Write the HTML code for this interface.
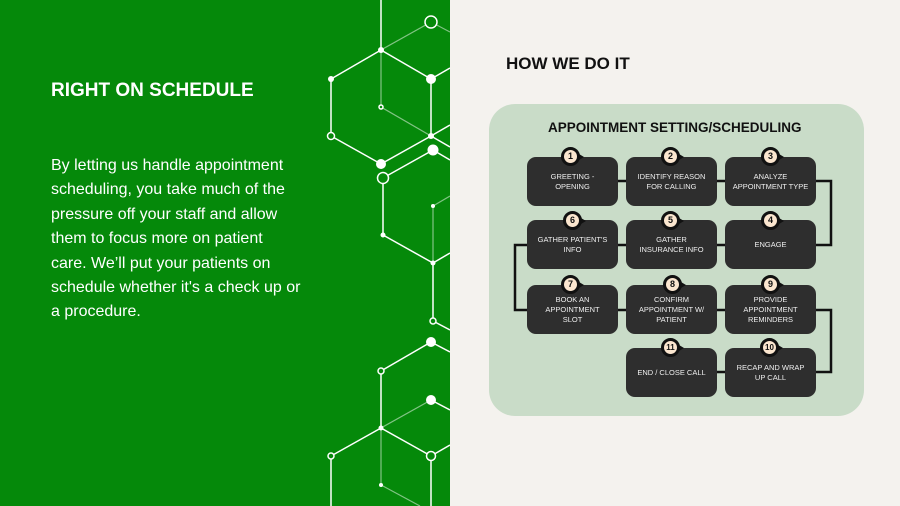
<!DOCTYPE html>
<html><head><style>
*{margin:0;padding:0;box-sizing:border-box}
body{width:900px;height:506px;position:relative;overflow:hidden;font-family:"Liberation Sans",sans-serif;background:#f4f2ee}
#l{position:absolute;left:0;top:0;width:450px;height:506px;background:#05890a}
.t{position:absolute;color:#fff;white-space:nowrap}
.b{position:absolute;background:#2e2e2e;border-radius:9px;color:#eee;font-size:7.5px;text-align:center;display:flex;align-items:center;justify-content:center;line-height:10px;width:91px;height:49px}
.n{position:absolute;width:19px;height:19px;border-radius:50%;background:#fbe6cf;border:3px solid #111;font-size:9px;font-weight:bold;text-align:center;line-height:13px;color:#111}
.n:after{content:"";position:absolute;right:-7px;top:3.5px;border-left:5px solid #111;border-top:3.5px solid transparent;border-bottom:3.5px solid transparent}
</style></head><body>
<div id="l"></div>
<svg style="position:absolute;left:0;top:0" width="450" height="506">
<g stroke="#fff" stroke-width="1.5" fill="none">
<line x1="381" y1="0" x2="381" y2="50"/><line x1="381" y1="50" x2="331" y2="79"/><line x1="381" y1="50" x2="431" y2="79"/>
<line x1="331" y1="79" x2="331" y2="136"/><line x1="331" y1="136" x2="381" y2="164"/><line x1="381" y1="164" x2="431" y2="136"/>
<line x1="431" y1="79" x2="431" y2="136"/><line x1="431" y1="79" x2="450" y2="68"/><line x1="431" y1="136" x2="450" y2="125"/><line x1="431" y1="136" x2="450" y2="147"/>
<line x1="383" y1="178" x2="433" y2="150"/><line x1="433" y1="150" x2="450" y2="160"/><line x1="383" y1="178" x2="383" y2="235"/><line x1="383" y1="235" x2="433" y2="263"/>
<line x1="433" y1="263" x2="450" y2="253"/><line x1="433" y1="263" x2="433" y2="321"/><line x1="433" y1="321" x2="450" y2="330"/>
<line x1="431" y1="342" x2="381" y2="371"/><line x1="431" y1="342" x2="450" y2="352"/><line x1="381" y1="371" x2="381" y2="428"/>
<line x1="431" y1="400" x2="450" y2="410"/><line x1="381" y1="428" x2="331" y2="456"/><line x1="381" y1="428" x2="431" y2="456"/>
<line x1="331" y1="456" x2="331" y2="506"/><line x1="431" y1="456" x2="431" y2="506"/><line x1="431" y1="456" x2="450" y2="445"/>
</g>
<g stroke="#fff" stroke-opacity=".5" stroke-width="1.2">
<line x1="381" y1="50" x2="431" y2="22"/><line x1="431" y1="22" x2="450" y2="32"/><line x1="381" y1="50" x2="381" y2="107"/><line x1="381" y1="107" x2="431" y2="136"/>
<line x1="433" y1="206" x2="433" y2="263"/><line x1="433" y1="206" x2="450" y2="196"/><line x1="381" y1="428" x2="431" y2="400"/>
<line x1="381" y1="428" x2="381" y2="485"/><line x1="381" y1="485" x2="420" y2="506"/>
</g>
<g fill="#fff">
<circle cx="381" cy="50" r="3"/><circle cx="431" cy="79" r="5"/><circle cx="331" cy="79" r="3"/><circle cx="431" cy="136" r="3"/>
<circle cx="381" cy="164" r="5"/><circle cx="433" cy="150" r="5.5"/><circle cx="383" cy="235" r="2.5"/><circle cx="433" cy="206" r="2"/>
<circle cx="433" cy="263" r="2.5"/><circle cx="431" cy="342" r="5"/><circle cx="431" cy="400" r="5"/><circle cx="381" cy="428" r="2.5"/><circle cx="381" cy="485" r="2"/>
</g>
<g fill="#05890a" stroke="#fff" stroke-width="1.5">
<circle cx="431" cy="22" r="6"/><circle cx="381" cy="107" r="2"/><circle cx="331" cy="136" r="3.5"/><circle cx="383" cy="178" r="5.5"/>
<circle cx="433" cy="321" r="3"/><circle cx="381" cy="371" r="3"/><circle cx="331" cy="456" r="3"/><circle cx="431" cy="456" r="4.5"/>
</g>
</svg>
<div class="t" style="left:51px;top:80px;font-size:19px;font-weight:bold">RIGHT ON SCHEDULE</div>
<div class="t" style="left:51px;top:154px;font-size:16px;line-height:24.4px">By letting us handle appointment<br>scheduling, you take much of the<br>pressure off your staff and allow<br>them to focus more on patient<br>care. We’ll put your patients on<br>schedule whether it's a check up or<br>a procedure.</div>
<div class="t" style="left:506px;top:54px;font-size:17px;font-weight:bold;color:#111">HOW WE DO IT</div>
<div style="position:absolute;left:489px;top:104px;width:375px;height:312px;background:#c9dcc8;border-radius:26px"></div>
<div class="t" style="left:548px;top:120px;font-size:13.5px;font-weight:bold;color:#111">APPOINTMENT SETTING/SCHEDULING</div>
<svg style="position:absolute;left:0;top:0" width="900" height="506"><g stroke="#111" stroke-width="2.5" fill="none">
<line x1="600" y1="181" x2="750" y2="181"/><polyline points="800,181 831,181 831,245 800,245"/>
<line x1="600" y1="245" x2="750" y2="245"/><polyline points="540,245 515,245 515,310 540,310"/>
<line x1="600" y1="310" x2="750" y2="310"/><polyline points="800,310 831,310 831,372 800,372"/>
<line x1="660" y1="372" x2="760" y2="372"/></g></svg>
<div class="b" style="left:527px;top:157px">GREETING -<br>OPENING</div>
<div class="b" style="left:626px;top:157px">IDENTIFY REASON<br>FOR CALLING</div>
<div class="b" style="left:725px;top:157px">ANALYZE<br>APPOINTMENT TYPE</div>
<div class="b" style="left:527px;top:220px">GATHER PATIENT'S<br>INFO</div>
<div class="b" style="left:626px;top:220px">GATHER<br>INSURANCE INFO</div>
<div class="b" style="left:725px;top:220px">ENGAGE</div>
<div class="b" style="left:527px;top:285px">BOOK AN<br>APPOINTMENT<br>SLOT</div>
<div class="b" style="left:626px;top:285px">CONFIRM<br>APPOINTMENT W/<br>PATIENT</div>
<div class="b" style="left:725px;top:285px">PROVIDE<br>APPOINTMENT<br>REMINDERS</div>
<div class="b" style="left:626px;top:348px">END / CLOSE CALL</div>
<div class="b" style="left:725px;top:348px">RECAP AND WRAP<br>UP CALL</div>
<div class="n" style="left:561px;top:147px">1</div>
<div class="n" style="left:661px;top:147px">2</div>
<div class="n" style="left:761px;top:147px">3</div>
<div class="n" style="left:563px;top:211px">6</div>
<div class="n" style="left:661px;top:211px">5</div>
<div class="n" style="left:761px;top:211px">4</div>
<div class="n" style="left:561px;top:275px">7</div>
<div class="n" style="left:663px;top:275px">8</div>
<div class="n" style="left:761px;top:275px">9</div>
<div class="n" style="left:661px;top:338px;font-size:8px">11</div>
<div class="n" style="left:760px;top:338px;font-size:8px">10</div>
</body></html>
